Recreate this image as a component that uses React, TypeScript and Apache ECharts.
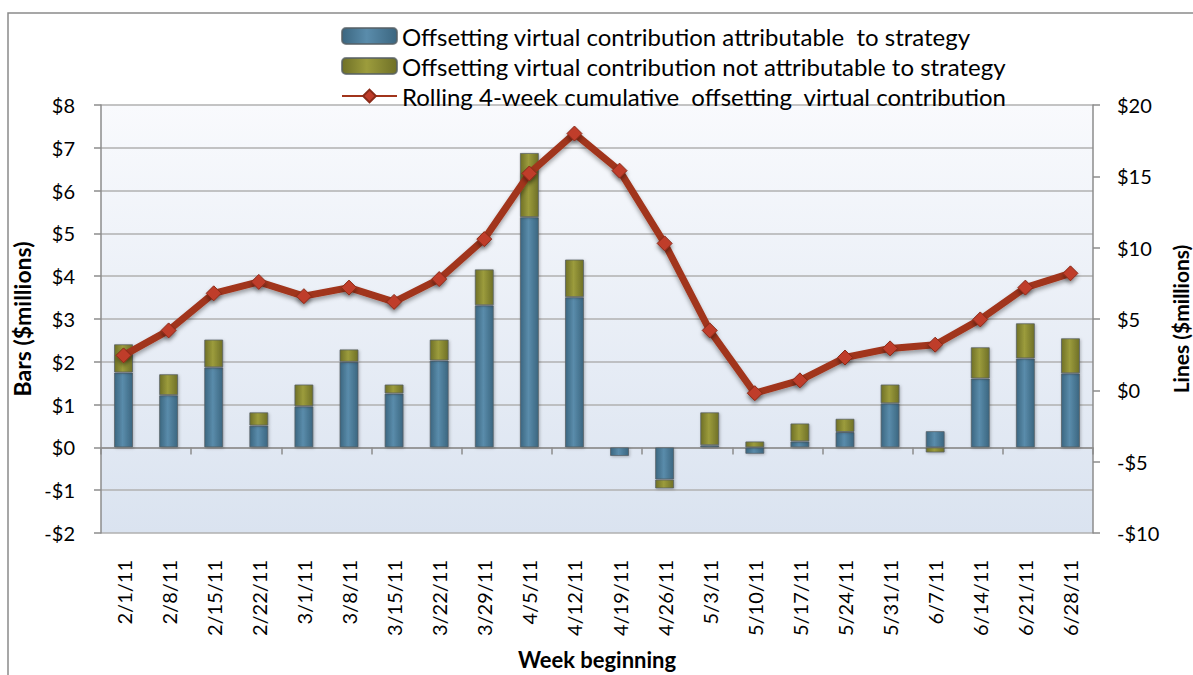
import React, { useEffect, useRef } from "react";
import * as echarts from "echarts";

const categories = [
  "2/1/11", "2/8/11", "2/15/11", "2/22/11", "3/1/11", "3/8/11", "3/15/11", "3/22/11",
  "3/29/11", "4/5/11", "4/12/11", "4/19/11", "4/26/11", "5/3/11", "5/10/11", "5/17/11",
  "5/24/11", "5/31/11", "6/7/11", "6/14/11", "6/21/11", "6/28/11",
];

const attributable = [
  1.75, 1.22, 1.87, 0.51, 0.96, 2.0, 1.26, 2.03, 3.32, 5.38, 3.51,
  -0.2, -0.75, 0.05, -0.15, 0.14, 0.36, 1.03, 0.38, 1.61, 2.08, 1.73,
];

const notAttributable = [
  0.66, 0.49, 0.65, 0.31, 0.51, 0.29, 0.21, 0.49, 0.84, 1.5, 0.88,
  0, -0.21, 0.77, 0.14, 0.42, 0.31, 0.44, -0.12, 0.73, 0.82, 0.82,
];

const rolling = [
  2.45, 4.2, 6.8, 7.6, 6.6, 7.2, 6.2, 7.8, 10.6, 15.2, 18.0,
  15.4, 10.3, 4.2, -0.2, 0.7, 2.3, 2.94, 3.2, 4.97, 7.2, 8.2,
];

const seriesNames = [
  "Offsetting virtual contribution attributable  to strategy",
  "Offsetting virtual contribution not attributable to strategy",
  "Rolling 4-week cumulative  offsetting  virtual contribution",
];

const FONT = "Lato, 'Open Sans', sans-serif";

const money = (v: number) => (v < 0 ? "-$" + Math.abs(v) : "$" + v);

const hGrad = (edge: string, mid: string) =>
  new echarts.graphic.LinearGradient(0, 0, 1, 0, [
    { offset: 0, color: edge },
    { offset: 0.45, color: mid },
    { offset: 1, color: edge },
  ]);

export default function App() {
  const ref = useRef<HTMLDivElement>(null);

  useEffect(() => {
    if (!ref.current) return;
    document.documentElement.style.overflow = "hidden";
    document.body.style.margin = "0";
    document.body.style.overflow = "hidden";
    const chart = echarts.init(ref.current, undefined, {
      renderer: "svg",
      width: 1193,
      height: 675,
    });
    chart.setOption({
      animation: false,
      backgroundColor: "#ffffff",
      textStyle: { fontFamily: FONT },
      graphic: [
        {
          type: "rect",
          shape: { x: 8, y: 13, width: 1400, height: 900 },
          style: { fill: "none", stroke: "#8a8a8a", lineWidth: 1.5 },
          silent: true,
          z: -10,
        },
      ],
      legend: {
        orient: "vertical",
        left: 336,
        top: 19,
        itemWidth: 55,
        itemHeight: 16,
        itemGap: 6,
        textStyle: { fontFamily: FONT, fontSize: 24, color: "#000", lineHeight: 24 },
        data: seriesNames,
      },
      grid: {
        left: 101,
        right: 100,
        top: 105,
        bottom: 142,
        outerBoundsMode: "none",
        containLabel: false,
        show: true,
        borderWidth: 0,
        backgroundColor: new echarts.graphic.LinearGradient(0, 0, 0, 1, [
          { offset: 0, color: "#f9fafd" },
          { offset: 1, color: "#dae3f0" },
        ]),
      },
      xAxis: [
        {
          type: "category",
          data: categories,
          position: "bottom",
          axisLine: { show: true, onZero: true, lineStyle: { color: "#8c8c8c", width: 1.5 } },
          axisTick: { show: true, length: 7, lineStyle: { color: "#8c8c8c", width: 1.5 } },
          axisLabel: { show: false },
          splitLine: { show: false },
        },
        {
          type: "category",
          data: categories,
          position: "bottom",
          axisLine: { show: false, onZero: false },
          axisTick: { show: false },
          axisLabel: {
            show: true,
            interval: 0,
            rotate: 90,
            margin: 27,
            fontSize: 20,
            color: "#000",
            fontFamily: FONT,
          },
          name: "Week beginning",
          nameLocation: "middle",
          nameGap: 115,
          nameTextStyle: { fontSize: 22, fontWeight: "bold", color: "#000", fontFamily: FONT },
        },
      ],
      yAxis: [
        {
          type: "value",
          position: "left",
          min: -2,
          max: 8,
          interval: 1,
          axisLine: { show: true, lineStyle: { color: "#8c8c8c", width: 1.5 } },
          axisTick: { show: true, length: 7, lineStyle: { color: "#8c8c8c", width: 1.5 } },
          axisLabel: { formatter: money, fontSize: 20, color: "#000", margin: 26, fontFamily: FONT },
          splitLine: { show: true, lineStyle: { color: "#b0b0b0", width: 1.5 } },
          name: "Bars ($millions)",
          nameLocation: "middle",
          nameRotate: 90,
          nameGap: 60,
          nameTextStyle: { fontSize: 23, fontWeight: "bold", color: "#000", fontFamily: FONT },
        },
        {
          type: "value",
          position: "right",
          min: -10,
          max: 20,
          interval: 5,
          axisLine: { show: true, lineStyle: { color: "#8c8c8c", width: 1.5 } },
          axisTick: { show: true, length: 7, lineStyle: { color: "#8c8c8c", width: 1.5 } },
          axisLabel: { formatter: money, fontSize: 20, color: "#000", margin: 24, fontFamily: FONT },
          splitLine: { show: false },
          name: "Lines ($millions)",
          nameLocation: "middle",
          nameRotate: 90,
          nameGap: 66,
          nameTextStyle: { fontSize: 21, fontWeight: "bold", color: "#000", fontFamily: FONT },
        },
      ],
      series: [
        {
          name: seriesNames[0],
          type: "bar",
          stack: "bars",
          barWidth: 19,
          data: attributable,
          itemStyle: {
            color: hGrad("#3b6680", "#5a8cab"),
            borderColor: "rgba(85,95,100,0.75)",
            borderWidth: 1,
            shadowBlur: 3,
            shadowColor: "rgba(0,0,0,0.25)",
            shadowOffsetX: 1,
            shadowOffsetY: 1,
          },
        },
        {
          name: seriesNames[1],
          type: "bar",
          stack: "bars",
          barWidth: 19,
          data: notAttributable,
          itemStyle: {
            color: hGrad("#6f7027", "#9c9c3c"),
            borderColor: "rgba(85,95,100,0.75)",
            borderWidth: 1,
            shadowBlur: 3,
            shadowColor: "rgba(0,0,0,0.25)",
            shadowOffsetX: 1,
            shadowOffsetY: 1,
          },
        },
        {
          name: seriesNames[2],
          type: "line",
          yAxisIndex: 1,
          data: rolling,
          symbol: "diamond",
          symbolSize: 15,
          lineStyle: {
            color: "#a1341b",
            width: 7,
            shadowBlur: 4,
            shadowColor: "rgba(0,0,0,0.35)",
            shadowOffsetY: 3,
          },
          itemStyle: {
            color: "#bf3c2a",
            borderColor: "#8a2a18",
            borderWidth: 1,
            shadowBlur: 4,
            shadowColor: "rgba(0,0,0,0.4)",
            shadowOffsetY: 3,
          },
          z: 5,
        },
      ],
    });
    return () => chart.dispose();
  }, []);

  return (
    <div
      ref={ref}
      style={{ position: "fixed", left: 0, top: 0, width: 1193, height: 675 }}
    />
  );
}
